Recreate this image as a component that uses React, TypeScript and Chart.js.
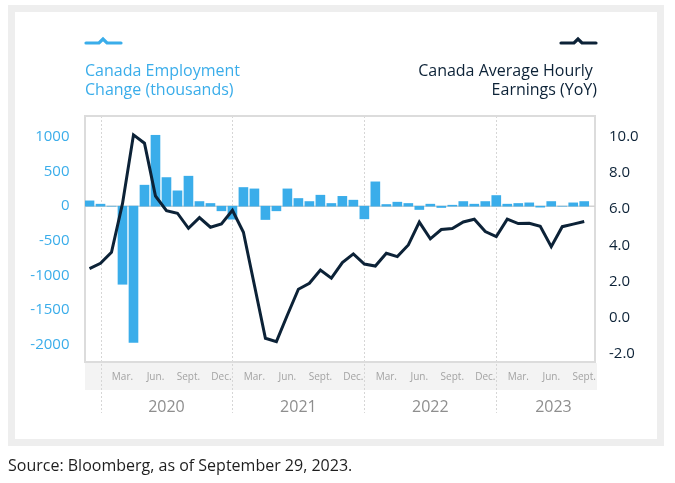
import React, { useEffect, useRef } from "react";
import { Chart, registerables } from "chart.js";

Chart.register(...registerables);

// ---- Data ----
const categories = [
  "Dec 2019",
  "Jan 2020", "Feb 2020", "Mar 2020", "Apr 2020", "May 2020", "Jun 2020",
  "Jul 2020", "Aug 2020", "Sep 2020", "Oct 2020", "Nov 2020", "Dec 2020",
  "Jan 2021", "Feb 2021", "Mar 2021", "Apr 2021", "May 2021", "Jun 2021",
  "Jul 2021", "Aug 2021", "Sep 2021", "Oct 2021", "Nov 2021", "Dec 2021",
  "Jan 2022", "Feb 2022", "Mar 2022", "Apr 2022", "May 2022", "Jun 2022",
  "Jul 2022", "Aug 2022", "Sep 2022", "Oct 2022", "Nov 2022", "Dec 2022",
  "Jan 2023", "Feb 2023", "Mar 2023", "Apr 2023", "May 2023", "Jun 2023",
  "Jul 2023", "Aug 2023", "Sep 2023",
];

// Canada Employment Change (thousands)
const employmentChange = [
  77,
  29, 0, -1130, -1970, 304, 1026, 414, 222, 434, 67, 39, -67,
  -188, 270, 250, -193, -67, 250, 111, 67, 159, 39, 142, 87,
  -183, 352, 24, 58, 39, -48, 29, -19, 14, 67, 29, 67,
  154, 29, 39, 48, -14, 67, 0, 48, 67,
];

// Canada Average Hourly Earnings (YoY, %)
const hourlyEarningsYoY = [
  2.72,
  3.01, 3.62, 6.3, 10.09, 9.63, 6.72, 5.91, 5.77, 4.94, 5.53, 5.0, 5.18,
  5.93, 4.72, 1.8, -1.12, -1.31, 0.16, 1.58, 1.91, 2.64, 2.19, 3.05, 3.53,
  2.97, 2.86, 3.56, 3.38, 4.02, 5.28, 4.36, 4.87, 4.93, 5.29, 5.44, 4.76,
  4.48, 5.44, 5.2, 5.22, 5.05, 3.93, 5.03, 5.17, 5.31,
];

const monthTickIndex = [3, 6, 9, 12, 15, 18, 21, 24, 27, 30, 33, 36, 39, 42, 45];
const monthAbbrev: Record<string, string> = { Mar: "Mar.", Jun: "Jun.", Sep: "Sept.", Dec: "Dec." };
const leftTicks = [-2000, -1500, -1000, -500, 0, 500, 1000];
const rightTicks = [-2, 0, 2, 4, 6, 8, 10];
const years = ["2020", "2021", "2022", "2023"];
const yearStartIndex = [1, 13, 25, 37];
const yearLabelCenter = [7, 19, 31, 42.2];

const BLUE = "#3aadea";
const NAVY = "#0c2237";
const FONT = "'Open Sans', sans-serif";

const decorPlugin = {
  id: "decor",
  beforeDraw(chart: any) {
    const { ctx, chartArea: a, scales } = chart;
    const x = scales.x;
    ctx.save();
    // grey band behind month labels
    ctx.fillStyle = "#f3f3f3";
    ctx.fillRect(a.left, a.bottom + 1, a.right - a.left + 2, 27);
    // dotted year separators
    ctx.strokeStyle = "#d6d6d6";
    ctx.lineWidth = 1;
    ctx.setLineDash([2, 2]);
    yearStartIndex.forEach((i) => {
      const px = Math.round(x.getPixelForValue(i)) + 0.5;
      ctx.beginPath();
      ctx.moveTo(px, a.top);
      ctx.lineTo(px, a.bottom + 51);
      ctx.stroke();
    });
    ctx.setLineDash([]);
    // year labels
    ctx.fillStyle = "#8e8e8e";
    ctx.font = `16px ${FONT}`;
    ctx.textAlign = "center";
    ctx.textBaseline = "middle";
    years.forEach((yr, k) => {
      ctx.fillText(yr, x.getPixelForValue(yearLabelCenter[k]), a.bottom + 45.5);
    });
    ctx.restore();
  },
  beforeDatasetsDraw(chart: any) {
    const { ctx, chartArea: a, scales } = chart;
    ctx.save();
    ctx.strokeStyle = "#dcdcdc";
    ctx.lineWidth = 2;
    ctx.strokeRect(a.left, a.top, a.right - a.left, a.bottom - a.top);
    // zero line of the employment axis
    const y0 = scales.y.getPixelForValue(0);
    ctx.strokeStyle = "#d2d2d2";
    ctx.lineWidth = 1.5;
    ctx.beginPath();
    ctx.moveTo(a.left, y0);
    ctx.lineTo(a.right, y0);
    ctx.stroke();
    ctx.restore();
  },
};

function EmploymentChart() {
  const ref = useRef<HTMLCanvasElement | null>(null);
  useEffect(() => {
    if (!ref.current) return;
    const chart = new Chart(ref.current, {
      type: "bar",
      data: {
        datasets: [
          {
            type: "line",
            label: "Canada Average Hourly Earnings (YoY)",
            data: hourlyEarningsYoY.map((v, i) => ({ x: i, y: v })),
            borderColor: NAVY,
            borderWidth: 3,
            pointRadius: 0,
            tension: 0,
            yAxisID: "y1",
            order: 0,
          } as any,
          {
            type: "bar",
            label: "Canada Employment Change (thousands)",
            data: employmentChange.map((v, i) => ({ x: i, y: v })),
            backgroundColor: BLUE,
            barThickness: 9,
            yAxisID: "y",
            order: 1,
          } as any,
        ],
      },
      options: {
        responsive: false,
        animation: false,
        devicePixelRatio: 1,
        layout: { padding: { top: 116, bottom: 61, left: 0, right: 0 } },
        plugins: { legend: { display: false }, tooltip: { enabled: false } },
        scales: {
          x: {
            type: "linear",
            offset: false,
            min: -0.41,
            max: 45.98,
            grid: { display: false, drawTicks: false },
            border: { display: false },
            afterBuildTicks: (s: any) => {
              s.ticks = monthTickIndex.map((v) => ({ value: v }));
            },
            afterFit: (s: any) => {
              s.height = 60;
            },
            ticks: {
              autoSkip: false,
              maxRotation: 0,
              padding: 9.5,
              color: "#a3a3a3",
              font: { family: FONT, size: 10 },
              callback: (v: any) => {
                const c = categories[Math.round(Number(v))] || "";
                return monthAbbrev[c.split(" ")[0]] || "";
              },
            },
          },
          y: {
            type: "linear",
            position: "left",
            min: -2255,
            max: 1305,
            afterBuildTicks: (s: any) => {
              s.ticks = leftTicks.map((v) => ({ value: v }));
            },
            afterFit: (s: any) => {
              s.width = 85;
            },
            grid: { display: false, drawTicks: false },
            border: { display: false },
            ticks: {
              padding: 15.5,
              color: BLUE,
              font: { family: FONT, size: 15 },
              callback: (v: any) => String(v),
            },
          },
          y1: {
            type: "linear",
            position: "right",
            min: -2.43,
            max: 11.13,
            afterBuildTicks: (s: any) => {
              s.ticks = rightTicks.map((v) => ({ value: v }));
            },
            afterFit: (s: any) => {
              s.width = 80;
            },
            grid: { display: false, drawTicks: false },
            border: { display: false },
            ticks: {
              padding: 14,
              color: NAVY,
              font: { family: FONT, size: 15 },
              callback: (v: any) => Number(v).toFixed(1),
            },
          },
        },
      },
      plugins: [decorPlugin],
    });
    return () => chart.destroy();
  }, []);
  return (
    <canvas
      ref={ref}
      width={675}
      height={483}
      style={{ position: "absolute", left: 0, top: 0, width: 675, height: 483 }}
    />
  );
}

function Marker({ left, color }: { left: number; color: string }) {
  return (
    <svg
      width={40}
      height={12}
      style={{ position: "absolute", left, top: 36, overflow: "visible" }}
    >
      <polyline
        points="1,7 14,7 18,3 22,7 36,7"
        fill="none"
        stroke={color}
        strokeWidth={3.2}
        strokeLinecap="round"
        strokeLinejoin="miter"
      />
    </svg>
  );
}

export default function App() {
  const textBase: React.CSSProperties = {
    position: "absolute",
    fontFamily: FONT,
    fontSize: 16,
    lineHeight: "19px",
    whiteSpace: "pre",
  };
  return (
    <div style={{ position: "absolute", left: 0, top: 0, width: 675, height: 483, background: "#fff" }}>
      <div
        style={{
          position: "absolute",
          left: 8,
          top: 5,
          width: 656,
          height: 441,
          boxSizing: "border-box",
          border: "7px solid #eeeeee",
          background: "#ffffff",
        }}
      />
      <EmploymentChart />
      <Marker left={85} color={BLUE} />
      <Marker left={560} color={NAVY} />
      <div style={{ ...textBase, left: 85, top: 61, color: BLUE }}>
        {"Canada Employment\nChange (thousands)"}
      </div>
      <div style={{ ...textBase, right: 675 - 597, top: 61, color: NAVY, textAlign: "right" }}>
        {"Canada Average Hourly \nEarnings (YoY)"}
      </div>
      <div style={{ ...textBase, left: 8, top: 456, color: "#1e1e1e" }}>
        Source: Bloomberg, as of September 29, 2023.
      </div>
    </div>
  );
}
